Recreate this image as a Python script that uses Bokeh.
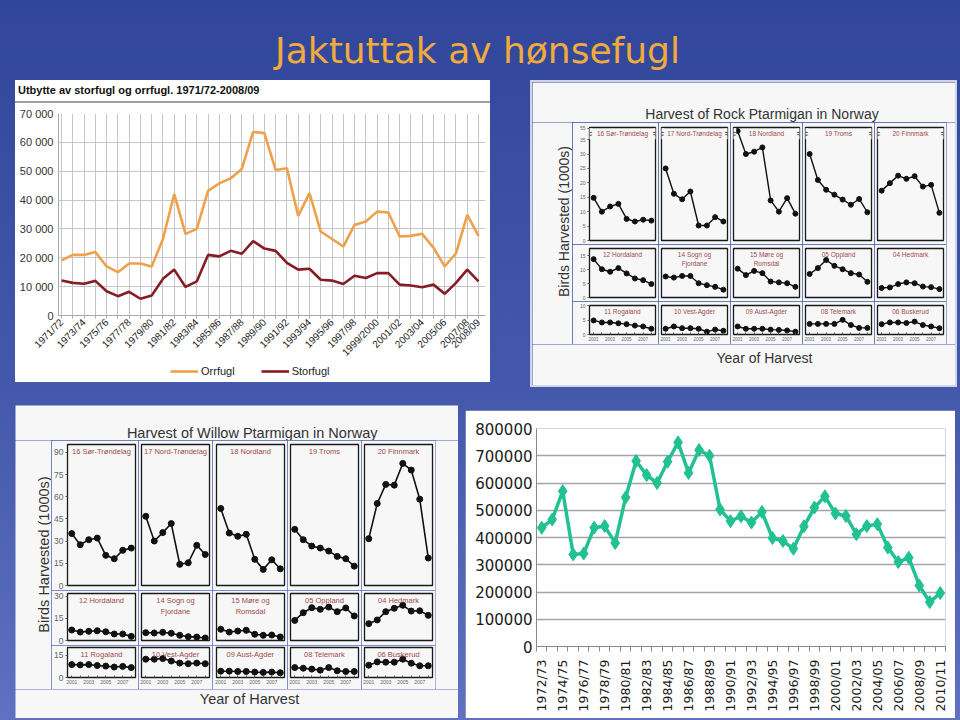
import math
from bokeh.plotting import figure
from bokeh.layouts import column, row
from bokeh.models import (Range1d, FixedTicker, Label, Legend, LegendItem, Div,
                          GlobalInlineStyleSheet)
from bokeh.core.properties import value
from bokeh.embed import file_html
from bokeh.resources import INLINE

# ---------------- data ----------------
slide_title = "Jaktuttak av hønsefugl"

tl_title = "Utbytte av storfugl og orrfugl. 1971/72-2008/09"
tl_seasons = ["1971/72", "1972/73", "1973/74", "1974/75", "1975/76", "1976/77", "1977/78",
              "1978/79", "1979/80", "1980/81", "1981/82", "1982/83", "1983/84", "1984/85",
              "1985/86", "1986/87", "1987/88", "1988/89", "1989/90", "1990/91", "1991/92",
              "1992/93", "1993/94", "1994/95", "1995/96", "1996/97", "1997/98", "1998/99",
              "1999/2000", "2000/01", "2001/02", "2002/03", "2003/04", "2004/05", "2005/06",
              "2006/07", "2007/08", "2008/09"]
tl_orrfugl = [19100, 21000, 21000, 22000, 17000, 15000, 18000, 18000, 17000, 26500,
              42100, 28300, 30000, 43200, 45800, 47500, 50800, 63600, 63200, 50400,
              51000, 34500, 42400, 29100, 26500, 23900, 31400, 32600, 36000, 35700,
              27400, 27600, 28300, 23500, 17000, 21500, 34900, 27600]
tl_storfugl = [12100, 11300, 11000, 12000, 8400, 6700, 8200, 5800, 6900, 12700,
               15900, 9900, 11800, 21000, 20500, 22400, 21400, 25800, 23200, 22400,
               18200, 15900, 16200, 12400, 12100, 10900, 13800, 13000, 14700, 14700,
               10700, 10400, 9800, 10700, 7500, 11300, 15900, 11800]
tl_series = ["Orrfugl", "Storfugl"]
tl_yticks = [0, 10000, 20000, 30000, 40000, 50000, 60000, 70000]
tl_ylabels = ["0", "10 000", "20 000", "30 000", "40 000", "50 000", "60 000", "70 000"]

years = [2001, 2002, 2003, 2004, 2005, 2006, 2007, 2008]
year_ticklabels = ["2001", "", "2003", "", "2005", "", "2007", ""]
region_names = ["16 Sør-Trøndelag", "17 Nord-Trøndelag", "18 Nordland", "19 Troms", "20 Finnmark",
                "12 Hordaland", "14 Sogn og\nFjordane", "15 Møre og\nRomsdal", "05 Oppland", "04 Hedmark",
                "11 Rogaland", "10 Vest-Agder", "09 Aust-Agder", "08 Telemark", "06 Buskerud"]

rock_title = "Harvest of Rock Ptarmigan in Norway"
rock_sor_trondelag = [14.8, 10.0, 11.8, 12.7, 7.5, 6.6, 7.2, 6.9]
rock_nord_trondelag = [25.0, 16.2, 14.3, 17.0, 5.2, 5.2, 8.1, 6.6]
rock_nordland = [53.0, 30.0, 30.8, 32.3, 13.9, 10.0, 14.7, 9.3]
rock_troms = [30.0, 21.0, 17.6, 15.9, 14.2, 12.4, 14.4, 9.8]
rock_finnmark = [17.3, 19.9, 22.5, 21.4, 22.3, 18.7, 19.3, 9.6]
rock_hordaland = [13.7, 10.1, 9.2, 10.5, 8.6, 6.8, 6.2, 4.8]
rock_sogn = [7.5, 7.1, 7.7, 7.7, 5.1, 4.4, 3.8, 2.8]
rock_more = [10.3, 8.0, 9.5, 8.7, 5.7, 5.4, 5.1, 3.8]
rock_oppland = [8.4, 10.5, 13.4, 11.3, 10.1, 8.7, 8.2, 5.6]
rock_hedmark = [3.4, 3.6, 4.8, 5.4, 5.1, 3.9, 3.7, 3.0]
rock_rogaland = [4.9, 4.2, 4.2, 3.9, 3.6, 3.1, 2.8, 2.0]
rock_vest_agder = [2.0, 2.8, 2.2, 2.2, 2.0, 1.0, 1.7, 1.3]
rock_aust_agder = [2.8, 2.0, 2.0, 2.0, 1.7, 1.6, 1.4, 1.0]
rock_telemark = [3.7, 3.7, 3.7, 3.7, 5.1, 3.3, 2.3, 2.3]
rock_buskerud = [3.6, 4.2, 4.2, 4.0, 4.5, 3.3, 2.8, 2.2]
rock_row_ticks = [[0, 5, 10, 15, 20, 25, 30, 35, 55], [0, 5, 10, 15], [0, 5, 10]]

willow_title = "Harvest of Willow Ptarmigan in Norway"
willow_sor_trondelag = [35.1, 27.6, 31.0, 32.1, 20.4, 18.1, 23.8, 25.3]
willow_nord_trondelag = [46.8, 30.1, 35.8, 41.9, 14.3, 15.4, 27.2, 21.0]
willow_nordland = [52.1, 35.5, 33.3, 34.6, 17.7, 10.9, 17.4, 11.3]
willow_troms = [38.0, 31.0, 26.7, 25.3, 23.3, 19.7, 18.1, 13.1]
willow_finnmark = [31.7, 55.5, 68.4, 67.9, 82.6, 78.1, 58.4, 18.6]
willow_hordaland = [7.1, 5.7, 6.2, 6.6, 5.9, 4.4, 4.4, 2.8]
willow_sogn = [5.3, 5.1, 5.5, 4.9, 3.5, 2.6, 2.3, 1.7]
willow_more = [7.6, 5.7, 6.4, 6.9, 4.2, 3.5, 3.7, 2.4]
willow_oppland = [13.6, 18.8, 22.2, 21.1, 22.6, 19.5, 22.0, 16.6]
willow_hedmark = [11.4, 13.9, 19.5, 21.8, 23.8, 19.9, 20.1, 17.0]
willow_rogaland = [8.6, 8.4, 8.6, 8.0, 7.6, 7.0, 7.4, 6.6]
willow_vest_agder = [12.2, 12.2, 12.6, 11.0, 9.6, 9.2, 9.6, 9.2]
willow_aust_agder = [4.2, 4.2, 4.0, 4.0, 3.6, 3.4, 3.6, 3.2]
willow_telemark = [6.6, 6.2, 5.6, 4.9, 6.6, 4.5, 4.0, 4.0]
willow_buskerud = [8.2, 10.4, 10.2, 10.2, 12.2, 9.5, 7.8, 7.8]
willow_row_ticks = [[0, 15, 30, 45, 60, 75, 90], [0, 15, 30], [0, 15]]

axis_title_y = "Birds Harvested (1000s)"
axis_title_x = "Year of Harvest"

br_seasons = ["1972/73", "1973/74", "1974/75", "1975/76", "1976/77", "1977/78", "1978/79",
              "1979/80", "1980/81", "1981/82", "1982/83", "1983/84", "1984/85", "1985/86",
              "1986/87", "1987/88", "1988/89", "1989/90", "1990/91", "1991/92", "1992/93",
              "1993/94", "1994/95", "1995/96", "1996/97", "1997/98", "1998/99", "1999/00",
              "2000/01", "2001/02", "2002/03", "2003/04", "2004/05", "2005/06", "2006/07",
              "2007/08", "2008/09", "2009/10", "2010/11"]
br_values = [436000, 466000, 570000, 338000, 341000, 436000, 442000, 380000, 547000, 681000,
             629000, 600000, 678000, 749000, 637000, 721000, 700000, 503000, 460000, 478000,
             455000, 494000, 398000, 387000, 359000, 441000, 510000, 551000, 488000, 479000,
             412000, 442000, 449000, 363000, 310000, 326000, 224000, 163000, 196000]
br_yticks = [0, 100000, 200000, 300000, 400000, 500000, 600000, 700000, 800000]
br_ylabels = ["0", "100000", "200000", "300000", "400000", "500000", "600000", "700000", "800000"]

# ---------------- helpers ----------------
SANS = "Liberation Sans"
BREAK_POS = 37.0   # where the axis-break marks sit on the rock top row


def canvas(w, h, bg="white", alpha=1.0, borders=(0, 0, 0, 0)):
    p = figure(width=w, height=h, x_range=Range1d(0, w), y_range=Range1d(h, 0),
               min_border_top=borders[0], min_border_right=borders[1],
               min_border_bottom=borders[2], min_border_left=borders[3],
               toolbar_location=None, output_backend="svg",
               x_axis_location=None, y_axis_location=None)
    p.background_fill_color = bg
    p.border_fill_color = bg
    p.background_fill_alpha = alpha
    p.border_fill_alpha = alpha
    p.outline_line_color = None
    p.xgrid.visible = False
    p.ygrid.visible = False
    return p


def add_text(p, x, y, txt, size, color, font=SANS, align="center", angle=0.0, style="normal"):
    p.text(x=[x], y=[y], text=[txt], text_font=value(font), text_font_size=value(size),
           text_color=color, text_align=align, text_baseline="middle", angle=angle,
           text_font_style=style)


def rock_break(v):
    # broken axis on the top row of the rock ptarmigan panel (35 // 55)
    return v if v <= 36 else 36.5 + (v - 50) * 0.5


def small_panel(vals, label, width, height, mbl, mbt, mbb, ytop, tick_vals, show_y, show_x,
                st, transform=None):
    p = figure(width=width, height=height, x_range=Range1d(2000.5, 2008.5),
               y_range=Range1d(0, ytop), min_border_left=mbl, min_border_right=3,
               min_border_top=mbt, min_border_bottom=mbb, toolbar_location=None,
               output_backend="svg",
               x_axis_location="below" if show_x else None,
               y_axis_location="left" if show_y else None)
    p.background_fill_color = st["bg"]
    p.border_fill_color = st["bg"]
    p.outline_line_color = "#1a1a1a"
    p.outline_line_width = 1.3
    p.xgrid.visible = False
    p.ygrid.visible = False
    tf = transform if transform else (lambda v: v)
    if show_y:
        pos = [tf(v) for v in tick_vals]
        ax = p.yaxis[0]
        ax.ticker = FixedTicker(ticks=pos, minor_ticks=[])
        ax.major_label_overrides = {pp: str(v) for pp, v in zip(pos, tick_vals)}
        ax.axis_line_color = None
        ax.major_tick_out = 2
        ax.major_tick_in = 0
        ax.major_tick_line_color = "#555555"
        ax.major_label_standoff = 2
        ax.major_label_text_font = SANS
        ax.major_label_text_font_size = st["ytick"]
        ax.major_label_text_color = "#666666"
    if show_x:
        ax = p.xaxis[0]
        ax.ticker = FixedTicker(ticks=years, minor_ticks=[])
        ax.major_label_overrides = {y: l for y, l in zip(years, year_ticklabels)}
        ax.axis_line_color = None
        ax.major_tick_out = 0
        ax.major_tick_in = 2
        ax.major_tick_line_color = "#555555"
        ax.major_label_standoff = 2
        ax.major_label_text_font = SANS
        ax.major_label_text_font_size = st["xtick"]
        ax.major_label_text_color = "#666666"
    ys = [tf(v) for v in vals]
    p.line(years, ys, line_color="#111111", line_width=st["lw"])
    p.scatter(years, ys, size=st["ms"], color="#111111")
    p.add_layout(Label(x=2004.5, y=ytop, text=label, text_align="center", text_baseline="top",
                       y_offset=-2, text_font=SANS, text_font_size=st["lab"],
                       text_color="#a04a4a", text_line_height=1.3))
    if transform is not None:
        # axis-break marks on both frame edges
        for xe in (2000.5, 2008.5):
            p.add_layout(Label(x=xe, y=BREAK_POS, text="≈", text_align="center",
                               text_baseline="middle", text_font=SANS, text_font_size="10px",
                               text_color="#1a1a1a", background_fill_color=st["bg"],
                               background_fill_alpha=1.0))
    return p


# ---------------- slide title ----------------
title_c = canvas(960, 80, bg="white", alpha=0.0)
add_text(title_c, 477, 50, slide_title, "36px", "#f2aa3c", font="DejaVu Sans")

# ---------------- top-left: storfugl / orrfugl ----------------
tl_head = Div(text=tl_title, width=475, height=23, margin=0,
              styles={"background-color": "white", "font-family": SANS, "font-size": "11px",
                      "font-weight": "bold", "color": "#111111", "line-height": "20px",
                      "padding-left": "3px", "box-sizing": "border-box",
                      "box-shadow": "inset 0 -2px 0 #a0a0a0", "white-space": "nowrap",
                      "overflow": "hidden"})

n_tl = len(tl_seasons)
tl_idx = list(range(n_tl))
tl = figure(width=475, height=261, x_range=Range1d(-0.27, n_tl - 1 + 0.62),
            y_range=Range1d(0, 70000), min_border_left=43, min_border_right=5,
            min_border_top=10, min_border_bottom=48, toolbar_location=None,
            output_backend="svg")
tl.background_fill_color = "white"
tl.border_fill_color = "white"
tl.outline_line_color = None
tl.xgrid.ticker = FixedTicker(ticks=tl_idx)
tl.xgrid.grid_line_color = "#c6c6c6"
tl.ygrid.ticker = FixedTicker(ticks=tl_yticks)
tl.ygrid.grid_line_color = "#c6c6c6"
xa = tl.xaxis[0]
xa.ticker = FixedTicker(ticks=tl_idx, minor_ticks=[])
xa.major_label_overrides = {i: (s if (i % 2 == 0 or i == n_tl - 1) else "")
                            for i, s in enumerate(tl_seasons)}
xa.major_label_orientation = math.pi / 4
xa.major_label_text_font = SANS
xa.major_label_text_font_size = "10px"
xa.major_label_text_color = "#222222"
xa.axis_line_color = "#a8a8a8"
xa.major_tick_line_color = "#a8a8a8"
xa.major_tick_out = 3
xa.major_tick_in = 0
xa.major_label_standoff = 2
ya = tl.yaxis[0]
ya.ticker = FixedTicker(ticks=tl_yticks, minor_ticks=[])
ya.major_label_overrides = {t: l for t, l in zip(tl_yticks, tl_ylabels)}
ya.major_label_text_font = SANS
ya.major_label_text_font_size = "11px"
ya.major_label_text_color = "#333333"
ya.axis_line_color = "#a8a8a8"
ya.major_tick_out = 0
ya.major_tick_in = 0
ya.major_label_standoff = 5
tl.line(tl_idx, tl_orrfugl, line_color="#f0a048", line_width=2.6)
tl.line(tl_idx, tl_storfugl, line_color="#861c26", line_width=2.6)

# legend strip under the chart (proxy lines lie entirely outside the strip's ranges)
tl_leg = canvas(475, 18, bg="white", alpha=0.0, borders=(0, 5, 0, 43))
tl_leg.x_range = Range1d(1000, 1001)
tl_leg.y_range = Range1d(-2, -1)
p_orr = tl_leg.line(tl_idx, tl_orrfugl, line_color="#f0a048", line_width=2.6)
p_sto = tl_leg.line(tl_idx, tl_storfugl, line_color="#861c26", line_width=2.6)
leg = Legend(items=[LegendItem(label=tl_series[0], renderers=[p_orr]),
                    LegendItem(label=tl_series[1], renderers=[p_sto])],
             orientation="horizontal", location=(112, 4), border_line_color=None,
             background_fill_alpha=0.0, padding=0, spacing=26, glyph_width=28,
             glyph_height=14, label_height=14, label_standoff=3, margin=0,
             label_text_font=SANS, label_text_font_size="11px", label_text_color="#222222")
tl_leg.add_layout(leg)
tl_panel = column(tl_head, tl, tl_leg, margin=(0, 0, 0, 15),
                  styles={"background-color": "white"})


# ---------------- small-multiple panels ----------------
def build_multiples(title, groups, row_ticks, row_tops, row_heights, row_tb, col_w, col_l,
                    total_w, title_h, title_xy, ylab_w, ylab_xy, xlab_h, xlab_xy, st, bg,
                    transforms):
    head = canvas(total_w, title_h, bg=bg)
    add_text(head, title_xy[0], title_xy[1], title, st["title"], "#333333")
    rows = []
    for r, grp in enumerate(groups):
        figs = []
        for c, (vals, name) in enumerate(grp):
            figs.append(small_panel(vals, name, col_w[c], row_heights[r], col_l[c],
                                    row_tb[r][0], row_tb[r][1], row_tops[r], row_ticks[r],
                                    c == 0, r == len(groups) - 1, st,
                                    transform=transforms[r]))
        rows.append(row(*figs))
    body_h = sum(row_heights)
    ylab = canvas(ylab_w, body_h, bg=bg)
    add_text(ylab, ylab_xy[0], ylab_xy[1], axis_title_y, st["title"], "#333333",
             angle=math.pi / 2)
    filler = canvas(total_w - ylab_w - sum(col_w), body_h, bg=bg)
    xlab = canvas(total_w, xlab_h, bg=bg)
    add_text(xlab, xlab_xy[0], xlab_xy[1], axis_title_x, st["title"], "#333333")
    return head, row(ylab, column(*rows), filler), xlab


rock_groups = [
    [(rock_sor_trondelag, region_names[0]), (rock_nord_trondelag, region_names[1]),
     (rock_nordland, region_names[2]), (rock_troms, region_names[3]),
     (rock_finnmark, region_names[4])],
    [(rock_hordaland, region_names[5]), (rock_sogn, region_names[6]),
     (rock_more, region_names[7]), (rock_oppland, region_names[8]),
     (rock_hedmark, region_names[9])],
    [(rock_rogaland, region_names[10]), (rock_vest_agder, region_names[11]),
     (rock_aust_agder, region_names[12]), (rock_telemark, region_names[13]),
     (rock_buskerud, region_names[14])],
]
rock_bg = "#f7f7f8"
rock_st = {"bg": rock_bg, "ytick": "5px", "xtick": "4.5px", "lab": "6.5px", "lw": 1.4,
           "ms": 5, "title": "14px"}
rh, rb, rx = build_multiples(rock_title, rock_groups, rock_row_ticks, [39.2, 17.5, 10.1],
                             [122, 57, 43], [(5, 4), (4, 4), (4, 10)],
                             [86, 72, 72, 72, 72], [17, 3, 3, 3, 3], 423, 40, (229.5, 31.5),
                             40, (31, 99), 41, (232, 13.5), rock_st, rock_bg,
                             [rock_break, None, None])
tr_panel = column(rh, rb, rx, margin=(2, 0, 0, 42),
                  styles={"box-shadow": "0 0 0 2px #cfd5e6"})

willow_groups = [
    [(willow_sor_trondelag, region_names[0]), (willow_nord_trondelag, region_names[1]),
     (willow_nordland, region_names[2]), (willow_troms, region_names[3]),
     (willow_finnmark, region_names[4])],
    [(willow_hordaland, region_names[5]), (willow_sogn, region_names[6]),
     (willow_more, region_names[7]), (willow_oppland, region_names[8]),
     (willow_hedmark, region_names[9])],
    [(willow_rogaland, region_names[10]), (willow_vest_agder, region_names[11]),
     (willow_aust_agder, region_names[12]), (willow_telemark, region_names[13]),
     (willow_buskerud, region_names[14])],
]
willow_bg = "#f7f7f7"
willow_st = {"bg": willow_bg, "ytick": "8.5px", "xtick": "5px", "lab": "7.5px", "lw": 1.6,
             "ms": 6, "title": "14.5px"}
wh, wb, wx = build_multiples(willow_title, willow_groups, willow_row_ticks, [95.4, 31.8, 20.0],
                             [150, 55, 44], [(4, 5), (3, 5), (2, 12)],
                             [87, 74, 75, 74, 74], [16, 3, 4, 3, 3], 443, 35, (236.7, 27),
                             36, (28, 114), 29, (234, 9), willow_st, willow_bg,
                             [None, None, None])
bl_panel = column(wh, wb, wx, margin=(20, 0, 0, 15))

# ---------------- bottom-right: total harvest ----------------
n_br = len(br_seasons)
br_idx = list(range(n_br))
br = figure(width=490, height=308, x_range=Range1d(-0.5, n_br - 0.5),
            y_range=Range1d(0, 800000), min_border_left=71, min_border_right=10,
            min_border_top=18, min_border_bottom=72, toolbar_location=None,
            output_backend="svg")
br.background_fill_color = "white"
br.border_fill_color = "white"
br.outline_line_color = None
br.xgrid.visible = False
br.ygrid.ticker = FixedTicker(ticks=br_yticks)
br.ygrid.grid_line_color = "#a4a4a4"
br.ygrid.grid_line_width = 1.3
bx = br.xaxis[0]
bx.ticker = FixedTicker(ticks=br_idx[::2], minor_ticks=[i - 0.5 for i in br_idx] + [n_br - 0.5])
bx.major_label_overrides = {i: br_seasons[i] for i in br_idx[::2]}
bx.major_label_orientation = math.pi / 2
bx.major_label_text_font = "DejaVu Sans"
bx.major_label_text_font_size = "12.5px"
bx.major_label_text_color = "#1a1a1a"
bx.major_label_standoff = 8
bx.major_tick_out = 0
bx.major_tick_in = 0
bx.minor_tick_out = 5
bx.minor_tick_in = 0
bx.minor_tick_line_color = "#8a8a8a"
bx.axis_line_color = "#8a8a8a"
by = br.yaxis[0]
by.ticker = FixedTicker(ticks=br_yticks, minor_ticks=[])
by.major_label_overrides = {t: l for t, l in zip(br_yticks, br_ylabels)}
by.major_label_text_font = "DejaVu Sans"
by.major_label_text_font_size = "15px"
by.major_label_text_color = "#1a1a1a"
by.major_label_standoff = 4
by.major_tick_out = 0
by.major_tick_in = 0
by.axis_line_color = "#8a8a8a"
br.line(br_idx, br_values, line_color="#21c192", line_width=3.5)
br.scatter(br_idx, br_values, marker="diamond", size=13, fill_color="#21c192",
           line_color="#21c192")
br_panel = column(br, margin=(25, 0, 0, 7))

# ---------------- layout ----------------
bg_css = GlobalInlineStyleSheet(css="html, body { background: linear-gradient(180deg, #30469a 0%, #4459ab 55%, #5f71c0 100%); overflow: hidden; }")
root = column(title_c, row(tl_panel, tr_panel), row(bl_panel, br_panel),
              stylesheets=[bg_css])

open("out.html", "w").write(file_html(root, INLINE))
